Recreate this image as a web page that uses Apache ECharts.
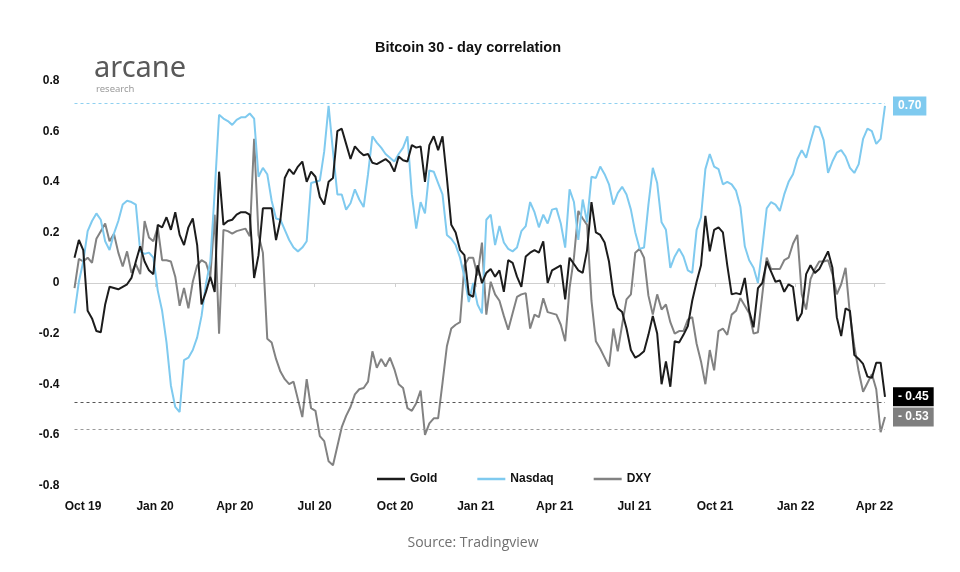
<!DOCTYPE html>
<html>
<head>
<meta charset="utf-8">
<script src="https://cdn.jsdelivr.net/npm/echarts@6/dist/echarts.min.js"></script>
<style>
  html, body { margin: 0; padding: 0; background: #ffffff; }
  #chart { width: 960px; height: 572px; }
</style>
</head>
<body>
<div id="chart"></div>
<script>
// ---- data (sampled every 5 days from 2019-10-01) ----
const START_DATE = '2019-10-01';
const STEP_DAYS = 5;

const gold = [0.10,0.17,0.13,-0.11,-0.14,-0.19,-0.195,-0.085,-0.015,-0.02,-0.025,-0.015,-0.005,0.02,0.085,0.145,0.085,0.05,0.035,0.23,
0.22,0.26,0.21,0.28,0.19,0.15,0.22,0.255,0.15,-0.085,-0.035,0.025,-0.035,0.44,0.23,0.245,0.25,0.27,0.28,0.28,
0.27,0.02,0.11,0.295,0.295,0.295,0.17,0.25,0.415,0.45,0.43,0.46,0.48,0.40,0.44,0.42,0.34,0.31,0.40,0.415,
0.60,0.61,0.55,0.49,0.54,0.52,0.505,0.51,0.475,0.47,0.48,0.49,0.475,0.44,0.50,0.485,0.48,0.545,0.535,0.54,
0.40,0.545,0.58,0.525,0.58,0.415,0.23,0.20,0.13,0.11,-0.045,-0.055,0.07,0.00,0.04,0.055,0.025,0.05,-0.035,0.09,
0.08,0.025,-0.015,0.105,0.12,0.13,0.12,0.165,0.00,0.05,0.06,0.07,-0.065,0.10,0.075,0.05,0.04,0.13,0.32,0.20,
0.19,0.16,0.085,-0.045,-0.10,-0.115,-0.18,-0.265,-0.295,-0.285,-0.27,-0.205,-0.13,-0.20,-0.40,-0.31,-0.41,-0.23,-0.235,-0.205,
-0.17,-0.07,0.005,0.07,0.265,0.125,0.21,0.22,0.20,0.07,-0.045,-0.04,-0.045,0.02,-0.11,-0.175,-0.02,0.00,0.085,0.045,
0.005,0.01,-0.035,-0.005,-0.015,-0.15,-0.12,0.035,0.07,0.04,0.055,0.09,0.125,0.06,-0.135,-0.21,-0.10,-0.11,-0.285,-0.30,
-0.32,-0.37,-0.375,-0.315,-0.315,-0.45];

const nasdaq = [-0.12,0.005,0.085,0.205,0.245,0.275,0.25,0.165,0.13,0.195,0.245,0.31,0.325,0.32,0.31,0.125,0.115,0.12,0.10,-0.03,
-0.11,-0.235,-0.405,-0.49,-0.51,-0.305,-0.295,-0.265,-0.215,-0.13,-0.005,0.085,0.36,0.665,0.65,0.64,0.625,0.645,0.655,0.655,
0.67,0.65,0.42,0.455,0.43,0.325,0.255,0.25,0.21,0.17,0.14,0.125,0.14,0.165,0.395,0.40,0.405,0.52,0.70,0.52,
0.35,0.35,0.29,0.315,0.37,0.33,0.30,0.43,0.58,0.555,0.535,0.51,0.495,0.48,0.51,0.535,0.58,0.35,0.215,0.32,
0.275,0.445,0.44,0.395,0.35,0.19,0.175,0.15,0.10,0.025,-0.075,0.00,-0.085,-0.12,0.25,0.27,0.15,0.225,0.16,0.135,
0.125,0.14,0.205,0.225,0.32,0.28,0.22,0.27,0.235,0.29,0.295,0.235,0.14,0.37,0.32,0.17,0.33,0.24,0.42,0.415,
0.46,0.43,0.39,0.31,0.355,0.38,0.35,0.29,0.20,0.135,0.14,0.31,0.455,0.395,0.24,0.21,0.06,0.105,0.135,0.105,
0.05,0.04,0.21,0.26,0.45,0.51,0.46,0.45,0.39,0.40,0.39,0.365,0.30,0.145,0.09,0.06,0.00,0.14,0.295,0.32,
0.31,0.285,0.35,0.40,0.43,0.49,0.525,0.495,0.56,0.62,0.615,0.565,0.435,0.48,0.515,0.525,0.50,0.455,0.435,0.47,
0.57,0.61,0.60,0.55,0.57,0.70];

const dxy = [-0.02,0.095,0.085,0.10,0.08,0.175,0.205,0.235,0.165,0.195,0.12,0.065,0.125,0.04,0.075,0.035,0.245,0.18,0.165,0.22,
0.09,0.09,0.085,0.025,-0.09,-0.02,-0.10,0.005,0.07,0.09,0.08,0.025,0.27,-0.20,0.21,0.205,0.195,0.205,0.21,0.215,
0.185,0.57,0.19,0.12,-0.22,-0.235,-0.30,-0.35,-0.38,-0.40,-0.39,-0.46,-0.53,-0.38,-0.495,-0.505,-0.605,-0.625,-0.705,-0.72,
-0.645,-0.57,-0.525,-0.49,-0.44,-0.42,-0.415,-0.39,-0.27,-0.335,-0.30,-0.33,-0.295,-0.34,-0.40,-0.415,-0.495,-0.505,-0.475,-0.425,
-0.60,-0.555,-0.535,-0.535,-0.395,-0.25,-0.18,-0.165,-0.155,0.07,0.10,0.10,0.03,0.16,-0.125,0.005,-0.045,-0.07,-0.13,-0.185,
-0.12,-0.055,-0.045,-0.04,-0.18,-0.125,-0.135,-0.06,-0.115,-0.12,-0.125,-0.165,-0.23,-0.02,0.10,0.285,0.255,0.23,-0.07,-0.23,
-0.26,-0.295,-0.33,-0.18,-0.27,-0.165,-0.065,-0.045,0.12,0.135,0.10,-0.05,-0.125,-0.045,-0.105,-0.085,-0.155,-0.20,-0.19,-0.19,
-0.145,-0.135,-0.24,-0.31,-0.40,-0.265,-0.345,-0.19,-0.18,-0.205,-0.125,-0.11,-0.06,-0.09,-0.12,-0.20,-0.195,-0.045,0.10,0.055,
0.055,0.055,0.09,0.10,0.155,0.19,-0.045,-0.105,0.015,0.055,0.085,0.085,0.09,0.035,-0.045,-0.005,0.06,-0.125,-0.25,-0.35,
-0.43,-0.395,-0.36,-0.42,-0.59,-0.53];

// reference (dashed) levels per series
const refLevels = { Gold: -0.47, Nasdaq: 0.715, DXY: -0.585 };

// x axis tick labels (quarter starts)
const tickDates = ['2019-10-01','2020-01-01','2020-04-01','2020-07-01','2020-10-01','2021-01-01','2021-04-01','2021-07-01','2021-10-01','2022-01-01','2022-04-01'];
const tickLabels = ['Oct 19','Jan 20','Apr 20','Jul 20','Oct 20','Jan 21','Apr 21','Jul 21','Oct 21','Jan 22','Apr 22'];

// ---- build ----
const DAY = 86400000;
const t0 = Date.parse(START_DATE + 'T00:00:00Z');
function toPairs(arr) { return arr.map((v, i) => [t0 + i * STEP_DAYS * DAY, v]); }
const tickTs = tickDates.map(d => Date.parse(d + 'T00:00:00Z'));
const xMin = t0;
const xMax = t0 + (gold.length - 1) * STEP_DAYS * DAY;

const COLORS = { Gold: '#1c1c1c', Nasdaq: '#7fcaef', DXY: '#828282' };
const BOX = { Gold: '#000000', Nasdaq: '#7fcaef', DXY: '#7f7f7f' };
const DASH = { Gold: '#555555', Nasdaq: '#8fd0f0', DXY: '#9a9a9a' };

function endFmt(p) {
  const v = p.value[1];
  return v < 0 ? '- ' + Math.abs(v).toFixed(2) : v.toFixed(2);
}

function mkSeries(name, arr, z) {
  return {
    name: name,
    type: 'line',
    data: toPairs(arr),
    showSymbol: false,
    symbol: 'none',
    z: z,
    lineStyle: { width: 2, color: COLORS[name] },
    itemStyle: { color: COLORS[name] },
    emphasis: { disabled: true },
    endLabel: {
      show: true,
      formatter: endFmt,
      backgroundColor: BOX[name],
      color: '#ffffff',
      fontWeight: 'bold',
      fontSize: 12,
      fontFamily: 'Liberation Sans, Arial, sans-serif',
      padding: [4, 5, 3, 5],
      distance: 8
    },
    markLine: {
      silent: true,
      symbol: 'none',
      label: { show: false },
      lineStyle: { type: [3, 3], width: 1, color: DASH[name] },
      data: [{ yAxis: refLevels[name] }]
    }
  };
}

const chart = echarts.init(document.getElementById('chart'), null, { renderer: 'canvas' });
const FONT = 'Liberation Sans, Arial, Helvetica, sans-serif';

chart.setOption({
  animation: false,
  backgroundColor: '#ffffff',
  grid: { left: 74.5, right: 75, top: 80.6, bottom: 86.6, containLabel: false },
  legend: {
    data: ['Gold', 'Nasdaq', 'DXY'],
    left: 372,
    top: 468,
    icon: 'rect',
    itemWidth: 28,
    itemHeight: 2.5,
    itemGap: 40,
    textStyle: { fontFamily: FONT, fontWeight: 'bold', fontSize: 12, color: '#111' }
  },
  xAxis: [
    {
      type: 'value',
      min: xMin, max: xMax,
      position: 'bottom',
      axisLine: { onZero: true, lineStyle: { color: '#cfcfcf', width: 1 } },
      axisTick: { show: true, length: 4, customValues: tickTs, lineStyle: { color: '#cfcfcf' } },
      axisLabel: { show: false },
      splitLine: { show: false }
    },
    {
      type: 'value',
      min: xMin, max: xMax,
      position: 'bottom',
      axisLine: { show: false, onZero: false },
      axisTick: { show: false },
      splitLine: { show: false },
      axisLabel: {
        show: true,
        customValues: tickTs,
        showMinLabel: true,
        margin: 15,
        fontFamily: FONT, fontWeight: 'bold', fontSize: 12, color: '#111',
        formatter: function (val) {
          const i = tickTs.indexOf(val);
          const s = i >= 0 ? tickLabels[i] : '';
          return i === 0 ? '{first|' + s + '}' : s;
        },
        rich: { first: { padding: [0, 0, 0, 17], fontFamily: FONT, fontWeight: 'bold', fontSize: 12, color: '#111' } }
      }
    }
  ],
  yAxis: {
    type: 'value',
    min: -0.8, max: 0.8, interval: 0.2,
    axisLine: { show: false },
    axisTick: { show: false },
    splitLine: { show: false },
    axisLabel: {
      margin: 15,
      fontFamily: FONT, fontWeight: 'bold', fontSize: 12, color: '#111',
      formatter: function (v) { return Math.abs(v) < 1e-9 ? '0' : v.toFixed(1); }
    }
  },
  series: [
    mkSeries('DXY', dxy, 2),
    mkSeries('Nasdaq', nasdaq, 3),
    mkSeries('Gold', gold, 4)
  ],
  graphic: [
    { type: 'text', z: 10, style: { text: 'Bitcoin 30 - day correlation', x: 468, y: 48, textAlign: 'center', textVerticalAlign: 'middle', font: 'bold 14.5px ' + FONT, fill: '#111' } },
    { type: 'text', z: 10, style: { text: 'arcane', x: 94, y: 69, textAlign: 'left', textVerticalAlign: 'middle', font: '29px "Noto Sans", "Open Sans", sans-serif', fill: '#595959' } },
    { type: 'text', z: 10, style: { text: 'research', x: 96, y: 89, textAlign: 'left', textVerticalAlign: 'middle', font: '9.5px "Noto Sans", "Open Sans", sans-serif', fill: '#9a9a9a' } },
    { type: 'text', z: 10, style: { text: 'Source: Tradingview', x: 473, y: 543, textAlign: 'center', textVerticalAlign: 'middle', font: '14px "Open Sans", "Noto Sans", sans-serif', fill: '#707070' } }
  ]
});
</script>
</body>
</html>
